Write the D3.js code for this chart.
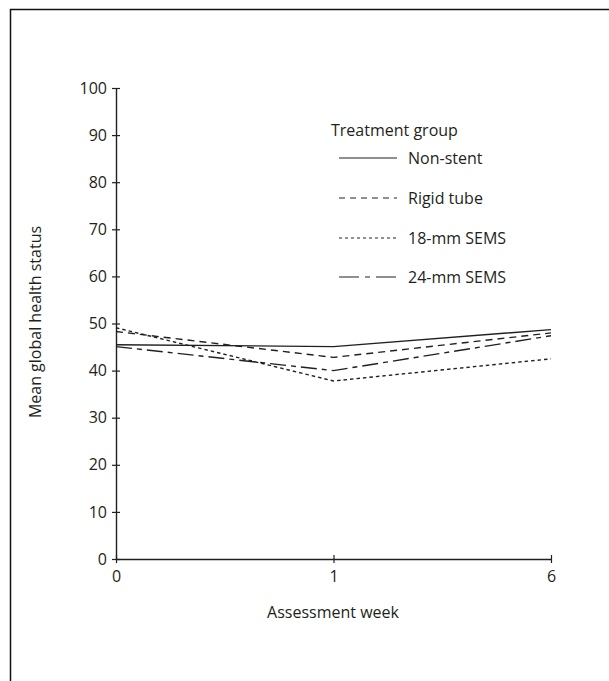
<!DOCTYPE html>
<html>
<head>
<meta charset="utf-8">
<script src="https://cdn.jsdelivr.net/npm/d3@7"></script>
<style>
  html, body { margin: 0; padding: 0; background: #fff; }
  svg { display: block; }
  text { font-family: "Open Sans", "Noto Sans", sans-serif; fill: #231f20; }
</style>
</head>
<body>
<svg id="chart" width="609" height="681"></svg>
<script>
// Assessment weeks (x categories)
const weeks = ["0", "1", "6"];

// Mean global health status per treatment group, by week
const nonStent   = [45.5, 45.1, 48.7];
const rigidTube  = [48.3, 42.8, 48.0];
const sems18     = [49.1, 37.8, 42.5];
const sems24     = [45.1, 40.0, 47.4];

const groupNames = ["Non-stent", "Rigid tube", "18-mm SEMS", "24-mm SEMS"];
const groupDashes = [null, "7,5", "3.5,3", "16,5,5,5"];
const legendDashes = [null, "6,5", "3,3", "20,6,5,6"];
const yTicks = [0, 10, 20, 30, 40, 50, 60, 70, 80, 90, 100];

const series = [nonStent, rigidTube, sems18, sems24];

const svg = d3.select("#chart");
const ink = "#231f20";

// Panel frame (runs off the right and bottom edges)
svg.append("path")
  .attr("d", "M10.5,681 V9.5 H609")
  .attr("fill", "none")
  .attr("stroke", "#111")
  .attr("stroke-width", 1.5);

const x = d3.scalePoint().domain(weeks).range([116, 551]);
const y = d3.scaleLinear().domain([0, 100]).range([559, 88]);

// Y axis
const yAxis = svg.append("g")
  .attr("transform", "translate(116,0)")
  .call(d3.axisLeft(y).tickValues(yTicks).tickSize(0).tickPadding(9));
yAxis.select(".domain").attr("stroke", ink).attr("stroke-width", 1.4);
yAxis.selectAll(".tick line").attr("x1", -4).attr("x2", 4)
  .attr("stroke", ink).attr("stroke-width", 1.2);
yAxis.selectAll(".tick text").attr("font-size", 16).attr("fill", ink)
  .style("font-family", "'Open Sans', sans-serif");

// X axis
const xAxis = svg.append("g")
  .attr("transform", "translate(0,559)")
  .call(d3.axisBottom(x).tickSize(0).tickPadding(12));
xAxis.select(".domain").attr("stroke", ink).attr("stroke-width", 1.4);
xAxis.selectAll(".tick line").attr("y1", -4).attr("y2", 4)
  .attr("stroke", ink).attr("stroke-width", 1.2);
xAxis.selectAll(".tick text").attr("font-size", 16).attr("fill", ink)
  .style("font-family", "'Open Sans', sans-serif");

// Axis titles
svg.append("text")
  .attr("x", 333).attr("y", 618)
  .attr("text-anchor", "middle")
  .attr("font-size", 16)
  .text("Assessment week");

svg.append("text")
  .attr("transform", "translate(41,322) rotate(-90)")
  .attr("text-anchor", "middle")
  .attr("font-size", 16)
  .text("Mean global health status");

// Series lines
const line = d3.line()
  .x((d, i) => x(weeks[i]))
  .y(d => y(d));

series.forEach((vals, k) => {
  svg.append("path")
    .datum(vals)
    .attr("d", line)
    .attr("fill", "none")
    .attr("stroke", ink)
    .attr("stroke-width", 1.4)
    .attr("stroke-dasharray", groupDashes[k]);
});

// Legend
const legend = svg.append("g");
legend.append("text")
  .attr("x", 331).attr("y", 136)
  .attr("font-size", 16)
  .text("Treatment group");

const legendY = [158, 198, 238, 277];
groupNames.forEach((name, k) => {
  legend.append("line")
    .attr("x1", 339).attr("x2", 397)
    .attr("y1", legendY[k]).attr("y2", legendY[k])
    .attr("stroke", ink)
    .attr("stroke-width", 1.2)
    .attr("stroke-dasharray", legendDashes[k]);
  legend.append("text")
    .attr("x", 408).attr("y", legendY[k])
    .attr("dy", "0.35em")
    .attr("font-size", 16)
    .text(name);
});
</script>
</body>
</html>
